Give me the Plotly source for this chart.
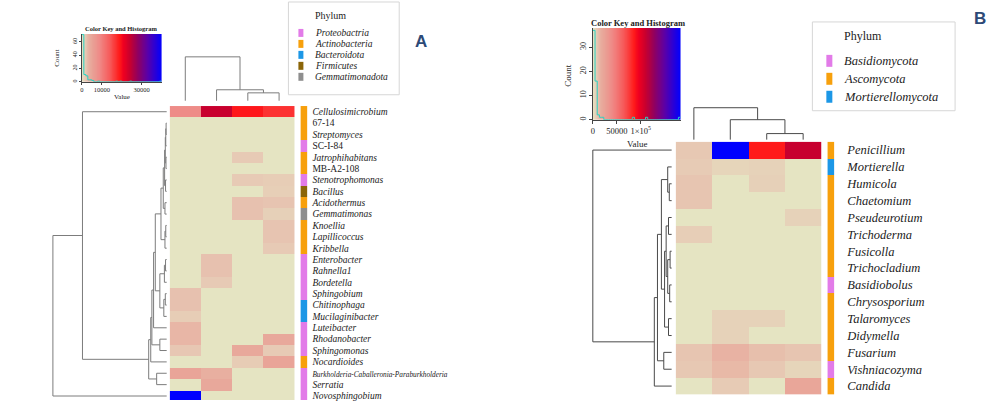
import numpy as np
import plotly.graph_objects as go

W, H = 1001, 401
def fx(px): return px / W
def fy(py): return 1 - py / H

SERIF = "Liberation Serif, Times New Roman, serif"

# ---------------- Panel A data ----------------
a_genera = ["Cellulosimicrobium", "67-14", "Streptomyces", "SC-I-84", "Jatrophihabitans",
            "MB-A2-108", "Stenotrophomonas", "Bacillus", "Acidothermus", "Gemmatimonas",
            "Knoellia", "Lapillicoccus", "Kribbella", "Enterobacter", "Rahnella1",
            "Bordetella", "Sphingobium", "Chitinophaga", "Mucilaginibacter", "Luteibacter",
            "Rhodanobacter", "Sphingomonas", "Nocardioides",
            "Burkholderia-Caballeronia-Paraburkholderia", "Serratia", "Novosphingobium"]
a_phylum = ["Actinobacteria", "Actinobacteria", "Actinobacteria", "Proteobactria", "Actinobacteria",
            "Actinobacteria", "Proteobactria", "Firmicutes", "Actinobacteria", "Gemmatimonadota",
            "Actinobacteria", "Actinobacteria", "Actinobacteria", "Proteobactria", "Proteobactria",
            "Proteobactria", "Proteobactria", "Bacteroidota", "Bacteroidota", "Proteobactria",
            "Proteobactria", "Proteobactria", "Actinobacteria", "Proteobactria", "Proteobactria",
            "Proteobactria"]
a_values = [
    [8500, 24000, 19000, 17000],
    [0, 0, 0, 0],
    [0, 0, 0, 0],
    [0, 0, 0, 0],
    [0, 0, 1600, 0],
    [0, 0, 0, 0],
    [0, 0, 1600, 1400],
    [0, 0, 0, 1300],
    [0, 0, 2200, 2000],
    [0, 0, 2200, 1200],
    [0, 0, 0, 2000],
    [0, 0, 0, 2000],
    [0, 0, 0, 1600],
    [0, 2200, 0, 0],
    [0, 2200, 0, 0],
    [0, 1600, 0, 0],
    [2200, 0, 0, 0],
    [2200, 0, 0, 0],
    [1400, 0, 0, 0],
    [3000, 0, 0, 0],
    [3000, 0, 0, 4500],
    [1800, 0, 4500, 1600],
    [0, 0, 1500, 5000],
    [5000, 3500, 0, 0],
    [0, 4500, 0, 0],
    [40000, 0, 0, 0],
]
a_upright = ["67-14", "SC-I-84", "MB-A2-108"]
a_phyla_names = ["Proteobactria", "Actinobacteria", "Bacteroidota", "Firmicutes", "Gemmatimonadota"]
a_phyla_colors = ["#e27be8", "#f7a00c", "#1c97e6", "#8b6508", "#8e8e8e"]
# linkage (left, right, height); leaves 0..25, merge k -> node 26+k
a_row_links = [(1, 2, 0.005), (26, 3, 0.008), (4, 5, 0.006), (27, 28, 0.012), (6, 7, 0.010),
               (29, 30, 0.018), (8, 9, 0.015), (31, 32, 0.030), (10, 11, 0.008), (34, 12, 0.015),
               (33, 35, 0.050), (13, 14, 0.010), (37, 15, 0.020), (16, 17, 0.012), (39, 18, 0.025),
               (38, 40, 0.060), (36, 41, 0.100), (42, 19, 0.115), (20, 21, 0.060), (43, 44, 0.130),
               (45, 22, 0.140), (23, 24, 0.088), (46, 47, 0.158), (0, 48, 0.740), (49, 25, 1.000)]
a_col_links = [(2, 3, 0.18), (1, 4, 0.25), (0, 5, 1.0)]
a_key_xticks = [0, 10000, 30000]
a_key_yticks = [0, 20, 40, 60]

# ---------------- Panel B data ----------------
b_genera = ["Penicillium", "Mortierella", "Humicola", "Chaetomium", "Pseudeurotium",
            "Trichoderma", "Fusicolla", "Trichocladium", "Basidiobolus", "Chrysosporium",
            "Talaromyces", "Didymella", "Fusarium", "Vishniacozyma", "Candida"]
b_phylum = ["Ascomycota", "Mortierellomycota", "Ascomycota", "Ascomycota", "Ascomycota",
            "Ascomycota", "Ascomycota", "Ascomycota", "Basidiomycota", "Ascomycota",
            "Ascomycota", "Ascomycota", "Ascomycota", "Basidiomycota", "Ascomycota"]
b_values = [
    [8000, 183000, 86000, 110000],
    [7000, 4000, 5000, 0],
    [9000, 0, 5500, 0],
    [9000, 0, 0, 0],
    [0, 0, 0, 5000],
    [6000, 0, 0, 0],
    [0, 0, 0, 0],
    [0, 0, 0, 0],
    [0, 0, 0, 0],
    [0, 0, 0, 0],
    [0, 5000, 5000, 0],
    [0, 5000, 0, 0],
    [9000, 15000, 11000, 9000],
    [8000, 13000, 8000, 4000],
    [0, 7000, 0, 22000],
]
b_phyla_names = ["Basidiomycota", "Ascomycota", "Mortierellomycota"]
b_phyla_colors = ["#e27be8", "#f7a00c", "#1c97e6"]
b_row_links = [(2, 3, 0.03), (1, 15, 0.05), (4, 5, 0.04), (6, 7, 0.02), (8, 9, 0.025),
               (18, 19, 0.05), (17, 20, 0.07), (10, 11, 0.04), (21, 22, 0.09), (16, 23, 0.13),
               (12, 13, 0.10), (24, 25, 0.18), (26, 14, 0.22), (0, 27, 1.0)]
b_col_links = [(2, 3, 0.19), (1, 4, 0.625), (0, 5, 1.0)]
b_key_xticks = [0, 50000, 100000]
b_key_xlabels = ["0", "50000", "1×10<sup>5</sup>"]
b_key_yticks = [0, 10, 20, 30]

heat_scale = [[0.0, "#e5e4c2"], [0.02, "#e6d6bb"], [0.045, "#e7c7b3"], [0.09, "#e8ae9f"],
              [0.14, "#e9a095"], [0.22, "#ef8a87"], [0.35, "#f65a5a"], [0.47, "#ff1a1a"],
              [0.52, "#f00020"], [0.60, "#c8002e"], [0.70, "#900060"], [0.82, "#5a00a8"],
              [1.0, "#0000ff"]]


def dendro(links, n):
    pos = {i: float(i) for i in range(n)}
    hgt = {i: 0.0 for i in range(n)}
    p, h = [], []
    for k, (l, r, hh) in enumerate(links):
        p += [pos[l], pos[l], pos[r], pos[r], None]
        h += [hgt[l], hh, hh, hgt[r], None]
        pos[n + k] = (pos[l] + pos[r]) / 2
        hgt[n + k] = hh
    return p, h


def discrete_scale(colors):
    k = len(colors)
    sc = []
    for i, c in enumerate(colors):
        sc += [[i / k, c], [(i + 1) / k, c]]
    return sc


fig = go.Figure()
annotations = []
shapes = []


def ann(px, py, text, size, xanchor="center", yanchor="middle", angle=0, color="#222", family=SERIF):
    annotations.append(dict(x=fx(px), y=fy(py), xref="paper", yref="paper", text=text,
                            showarrow=False, xanchor=xanchor, yanchor=yanchor, textangle=angle,
                            font=dict(size=size, color=color, family=family)))


def panel(values, genera, phylum, phyla_names, phyla_colors, row_links, col_links, ax, dcolor):
    vals = np.array(values, dtype=float)
    n = len(genera)
    zmax = vals.max()
    xh, yr, xd, yd, xp = ax
    fig.add_trace(go.Heatmap(z=vals, x=list(range(vals.shape[1])), y=list(range(n)),
                             colorscale=heat_scale, zmin=0, zmax=zmax, showscale=False,
                             xaxis=xh, yaxis=yr, hoverinfo="skip"))
    pidx = [[phyla_names.index(p)] for p in phylum]
    fig.add_trace(go.Heatmap(z=pidx, x=[0], y=list(range(n)), colorscale=discrete_scale(phyla_colors),
                             zmin=-0.5, zmax=len(phyla_names) - 0.5, showscale=False,
                             xaxis=xp, yaxis=yr, hoverinfo="skip"))
    p, h = dendro(row_links, n)
    fig.add_trace(go.Scatter(x=h, y=p, mode="lines", line=dict(color=dcolor, width=1),
                             xaxis=xd, yaxis=yr, hoverinfo="skip", showlegend=False))
    p, h = dendro(col_links, vals.shape[1])
    fig.add_trace(go.Scatter(x=p, y=h, mode="lines", line=dict(color=dcolor, width=1),
                             xaxis=xh, yaxis=yd, hoverinfo="skip", showlegend=False))
    return zmax


def key(values, zmax, xk, yk, ymax):
    vals = np.array(values, dtype=float).ravel()
    edges = np.linspace(0, zmax, 257)
    fig.add_trace(go.Heatmap(z=[list((edges[:-1] + edges[1:]) / 2)], x=list(edges), y=[0, ymax],
                             colorscale=heat_scale, zmin=0, zmax=zmax, showscale=False,
                             xaxis=xk, yaxis=yk, hoverinfo="skip"))
    bins = np.linspace(0, zmax, 41)
    counts, _ = np.histogram(vals, bins=bins)
    fig.add_trace(go.Scatter(x=list(bins), y=list(counts) + [counts[-1]], mode="lines",
                             line=dict(color="#27d3c3", width=1, shape="hv"),
                             xaxis=xk, yaxis=yk, hoverinfo="skip", showlegend=False))


def lab_a(g):
    if g.startswith("Burkholderia"):
        return '<span style="font-size:7.3px"><i>' + g + '</i></span>'
    return g if g in a_upright else "<i>" + g + "</i>"


za = panel(a_values, a_genera, a_phylum, a_phyla_names, a_phyla_colors, a_row_links, a_col_links,
           ("x", "y", "x2", "y2", "x3"), "#7c7c7c")
zb = panel(b_values, b_genera, b_phylum, b_phyla_names, b_phyla_colors, b_row_links, b_col_links,
           ("x5", "y5", "x6", "y6", "x7"), "#4a4a4a")
key(a_values, za, "x4", "y4", 72)
key(b_values, zb, "x8", "y8", 38)

hidden = dict(visible=False, showgrid=False, zeroline=False, fixedrange=True)

a_top, a_row_h = 106.3, 11.4
a_rows_bottom = -0.5 + (H - a_top) / a_row_h
b_top, b_row_h = 142.0, 16.9
b_bottom_px = b_top + b_row_h * len(b_genera)

layout = dict(
    width=W, height=H, margin=dict(l=0, r=0, t=0, b=0),
    paper_bgcolor="white", plot_bgcolor="white", showlegend=False,
    xaxis=dict(domain=[fx(168), fx(293.3)], range=[-0.5, 3.5], anchor="y", **hidden),
    yaxis=dict(domain=[0, fy(a_top)], range=[a_rows_bottom, -0.5], anchor="x3", side="right",
               tickvals=list(range(len(a_genera))), ticktext=[lab_a(g) for g in a_genera],
               ticks="", showline=False, showgrid=False, zeroline=False, ticklabelstandoff=4,
               ticklabeloverflow="allow",
               tickfont=dict(family=SERIF, size=9.5, color="#222")),
    xaxis2=dict(domain=[fx(48), fx(166)], range=[117 / 114, -1 / 114], anchor="y", **hidden),
    yaxis2=dict(domain=[fy(105), fy(50)], range=[-4 / 44, 51 / 44], anchor="x", **hidden),
    xaxis3=dict(domain=[fx(299), fx(306)], range=[-0.5, 0.5], anchor="y", **hidden),
    xaxis4=dict(domain=[fx(80), fx(160)], range=[0, za], anchor="y4", tickvals=a_key_xticks,
                ticktext=[str(v) for v in a_key_xticks], ticks="outside", ticklen=2, tickwidth=0.7,
                showline=True, linecolor="#444", linewidth=0.7, showgrid=False, zeroline=False,
                ticklabeloverflow="allow",
                tickfont=dict(family=SERIF, size=6.5, color="#222"), fixedrange=True),
    yaxis4=dict(domain=[fy(82), fy(34)], range=[0, 72], anchor="x4", tickvals=a_key_yticks,
                ticks="outside", ticklen=2, tickwidth=0.7, tickangle=-90,
                showline=True, linecolor="#444", linewidth=0.7, showgrid=False, zeroline=False,
                ticklabeloverflow="allow",
                tickfont=dict(family=SERIF, size=6, color="#222"), fixedrange=True),
    xaxis5=dict(domain=[fx(675), fx(821)], range=[-0.5, 3.5], anchor="y5", **hidden),
    yaxis5=dict(domain=[fy(b_bottom_px), fy(b_top)], range=[len(b_genera) - 0.5, -0.5], anchor="x7",
                side="right", tickvals=list(range(len(b_genera))),
                ticktext=["<i>" + g + "</i>" for g in b_genera],
                ticks="", showline=False, showgrid=False, zeroline=False, ticklabelstandoff=12,
                ticklabeloverflow="allow",
                tickfont=dict(family=SERIF, size=12.5, color="#222")),
    xaxis6=dict(domain=[fx(588), fx(673)], range=[83 / 79, -2 / 79], anchor="y5", **hidden),
    yaxis6=dict(domain=[fy(142), fy(104)], range=[-2 / 32, 36 / 32], anchor="x5", **hidden),
    xaxis7=dict(domain=[fx(827), fx(834)], range=[-0.5, 0.5], anchor="y5", **hidden),
    xaxis8=dict(domain=[fx(592), fx(680)], range=[0, zb], anchor="y8", tickvals=b_key_xticks,
                ticktext=b_key_xlabels, ticks="outside", ticklen=3, tickwidth=0.8,
                showline=True, linecolor="#444", linewidth=0.8, showgrid=False, zeroline=False,
                ticklabeloverflow="allow",
                tickfont=dict(family=SERIF, size=8.5, color="#222"), fixedrange=True),
    yaxis8=dict(domain=[fy(120), fy(28)], range=[0, 38], anchor="x8", tickvals=b_key_yticks,
                ticks="outside", ticklen=3, tickwidth=0.8, tickangle=-90,
                showline=True, linecolor="#444", linewidth=0.8, showgrid=False, zeroline=False,
                ticklabeloverflow="allow",
                tickfont=dict(family=SERIF, size=8, color="#222"), fixedrange=True),
)

# Color key texts
ann(120, 29, "<b>Color Key and Histogram</b>", 6.5)
ann(120, 97, "Value", 7)
ann(55, 58, "Count", 7, angle=-90)
ann(637, 23, "<b>Color Key and Histogram</b>", 8.5)
ann(637, 144, "Value", 9)
ann(567, 75, "Count", 9, angle=-90)

# Legend A
shapes.append(dict(type="rect", xref="paper", yref="paper", x0=fx(287), x1=fx(398), y0=fy(95), y1=fy(2),
                   line=dict(color="#d6d6d6", width=1), fillcolor="rgba(0,0,0,0)"))
ann(312, 16, "Phylum", 10, xanchor="left")
for i, (nm, c) in enumerate(zip(a_phyla_names, a_phyla_colors)):
    yc = 33 + i * 11
    shapes.append(dict(type="rect", xref="paper", yref="paper", x0=fx(297), x1=fx(302),
                       y0=fy(yc + 4), y1=fy(yc - 4), line=dict(width=0), fillcolor=c))
    ann(312, yc, "<i>" + nm + "</i>", 9.5, xanchor="left")

# Legend B
shapes.append(dict(type="rect", xref="paper", yref="paper", x0=fx(812), x1=fx(955), y0=fy(111), y1=fy(22),
                   line=dict(color="#d6d6d6", width=1), fillcolor="rgba(0,0,0,0)"))
ann(842, 36, "Phylum", 12, xanchor="left")
for i, (nm, c) in enumerate(zip(b_phyla_names, b_phyla_colors)):
    yc = 61 + i * 18
    shapes.append(dict(type="rect", xref="paper", yref="paper", x0=fx(826), x1=fx(832),
                       y0=fy(yc + 6), y1=fy(yc - 6), line=dict(width=0), fillcolor=c))
    ann(842, yc, "<i>" + nm + "</i>", 12.5, xanchor="left")

# Panel letters
ann(420, 42, "<b>A</b>", 17, color="#2d4a77", family="Liberation Sans, Arial, sans-serif")
ann(980, 19, "<b>B</b>", 17, color="#2d4a77", family="Liberation Sans, Arial, sans-serif")

layout["annotations"] = annotations
layout["shapes"] = shapes
fig.update_layout(**layout)
fig.write_html("out.html")
